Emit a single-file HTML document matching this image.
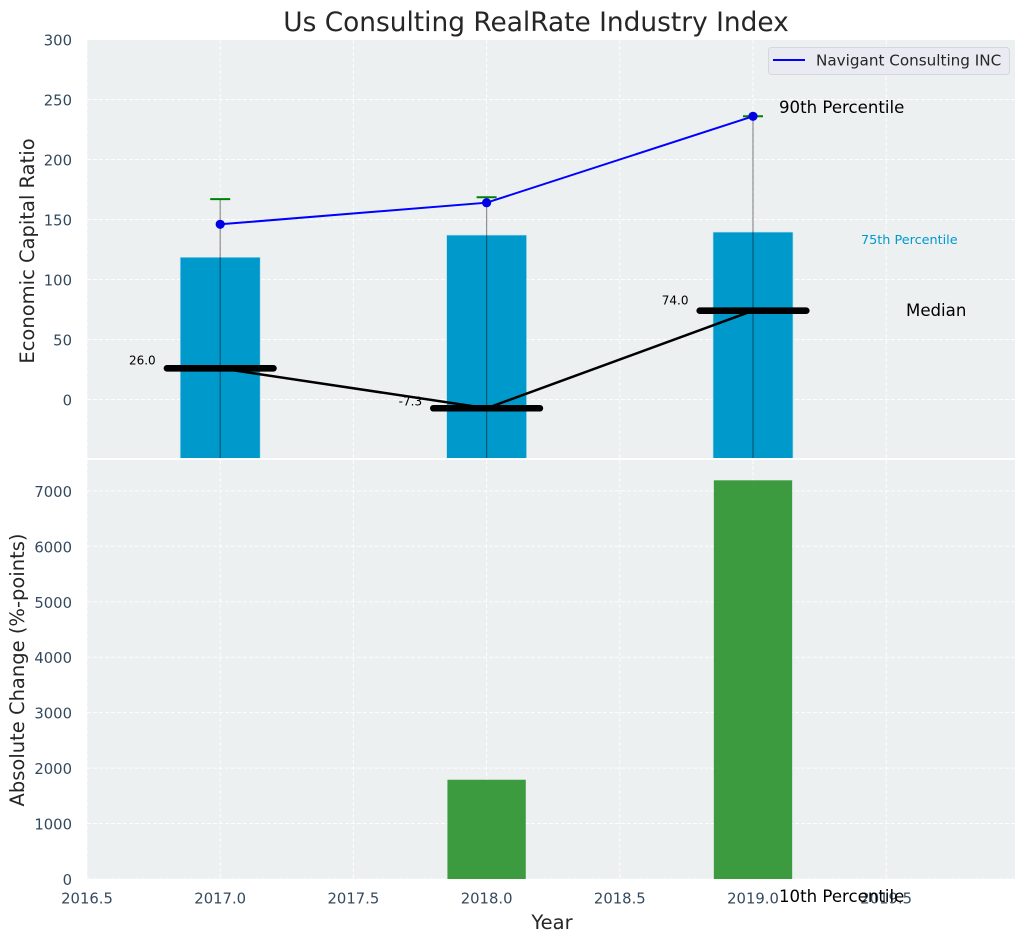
<!DOCTYPE html>
<html lang="en">
<head>
<meta charset="utf-8">
<title>Us Consulting RealRate Industry Index</title>
<style>
html,body{margin:0;padding:0;background:#fff;}
svg{display:block;font-family:"DejaVu Sans","Liberation Sans",sans-serif;}
</style>
</head>
<body>
<svg id="chart" width="1026" height="942" viewBox="0 0 1026 942" xmlns="http://www.w3.org/2000/svg">
  <defs>
    <clipPath id="top-clip"><rect x="87" y="40" width="928" height="418"></rect></clipPath>
    <clipPath id="bottom-clip"><rect x="87" y="460" width="928" height="419"></rect></clipPath>
  </defs>
  <rect x="0" y="0" width="1026" height="942" fill="#ffffff"></rect>
  <rect x="87" y="40" width="928" height="418" fill="#ecf0f1"></rect>
  <rect x="87" y="460" width="928" height="419" fill="#ecf0f1"></rect>
  <g id="top-grid"></g>
  <g id="bottom-grid"></g>
  <g id="top-marks" clip-path="url(#top-clip)"></g>
  <g id="bottom-marks" clip-path="url(#bottom-clip)"></g>
  <g id="labels"></g>
  <text x="536" y="31" font-size="26.4px" fill="#262626" text-anchor="middle">Us Consulting RealRate Industry Index</text>
  <text transform="translate(34,251) rotate(-90)" font-size="19.5px" fill="#262626" text-anchor="middle">Economic Capital Ratio</text>
  <text transform="translate(24,670) rotate(-90)" font-size="19.5px" fill="#262626" text-anchor="middle">Absolute Change (%-points)</text>
  <text x="552" y="929" font-size="19.5px" fill="#262626" text-anchor="middle">Year</text>
  <g>
    <rect x="768.5" y="47.5" width="241" height="27" rx="3" fill="#eaeaf2" stroke="#d6d6dc" stroke-width="1"></rect>
    <line x1="773" y1="60" x2="805" y2="60" stroke="#0000ff" stroke-width="2"></line>
    <text x="816" y="65.5" font-size="15.2px" fill="#262626">Navigant Consulting INC</text>
  </g>
</svg>
<script>
var years = [2017, 2018, 2019];
var p90 = [167, 168.5, 236];
var p75 = [118.5, 137, 139.5];
var median = [26, -7.3, 74];
var p10 = [-60, -60, -60];
var company = [146, 164, 236];
var changes = [0, 1790, 7190];
var xTicks = [2016.5, 2017, 2017.5, 2018, 2018.5, 2019, 2019.5];
var topTicks = [0, 50, 100, 150, 200, 250, 300];
var bottomTicks = [0, 1000, 2000, 3000, 4000, 5000, 6000, 7000];
var medianLabels = ['26.0', '-7.3', '74.0'];
var barWidth = 0.3;
var medianHalf = 0.2;

var NS = 'http://www.w3.org/2000/svg';
function xPos(v) { return 87 + (v - 2016.5) * 266.4; }
function yTop(v) { return 399.5 - v * 1.2; }
function yBottom(v) { return 879 - v * 0.05545; }
function make(parent, tag, attrs, text) {
  var el = document.createElementNS(NS, tag);
  for (var k in attrs) { el.setAttribute(k, attrs[k]); }
  if (text !== undefined) { el.textContent = text; }
  parent.appendChild(el);
  return el;
}
var topGrid = document.getElementById('top-grid');
var bottomGrid = document.getElementById('bottom-grid');
var topMarks = document.getElementById('top-marks');
var bottomMarks = document.getElementById('bottom-marks');
var labels = document.getElementById('labels');
var gridStyle = { stroke: '#ffffff', 'stroke-width': 1, 'stroke-dasharray': '4 2', opacity: 0.9, fill: 'none' };
function gridLine(parent, x1, y1, x2, y2, name) {
  var a = { x1: x1, y1: y1, x2: x2, y2: y2 };
  for (var k in gridStyle) { a[k] = gridStyle[k]; }
  var el = make(parent, 'line', a);
  
  
}
xTicks.forEach(function (t) {
  var x = xPos(t);
  gridLine(topGrid, x, 40, x, 458, 'top-x-gridline');
  gridLine(bottomGrid, x, 460, x, 879, 'bottom-x-gridline');
  var lab = make(labels, 'text', { x: x, y: 903.5, 'font-size': '14.8px', fill: '#34495e', 'text-anchor': 'middle' }, t.toFixed(1));
  
  
});
topTicks.forEach(function (t) {
  var y = yTop(t);
  gridLine(topGrid, 87, y, 1015, y, 'top-y-gridline');
  var lab = make(labels, 'text', { x: 72, y: y + 5.8, 'font-size': '14.8px', fill: '#34495e', 'text-anchor': 'end' }, String(t));
  
  
});
bottomTicks.forEach(function (t) {
  var y = yBottom(t);
  gridLine(bottomGrid, 87, y, 1015, y, 'bottom-y-gridline');
  var lab = make(labels, 'text', { x: 72, y: y + 6, 'font-size': '14.8px', fill: '#34495e', 'text-anchor': 'end' }, String(t));
  
  
});

years.forEach(function (yr, i) {
  var bar = make(topMarks, 'rect', {
    x: xPos(yr - barWidth / 2), y: yTop(p75[i]),
    width: xPos(yr + barWidth / 2) - xPos(yr - barWidth / 2),
    height: yTop(-60) - yTop(p75[i]),
    fill: '#0099cc', stroke: '#b5dfec', 'stroke-width': 0.6
  });
  
  
  var whisker = make(topMarks, 'line', {
    x1: xPos(yr), y1: yTop(p90[i]), x2: xPos(yr), y2: yTop(p10[i]),
    stroke: '#000000', 'stroke-width': 1.2, opacity: 0.42
  });
  
  
  var cap = make(topMarks, 'line', {
    x1: xPos(yr) - 10, y1: yTop(p90[i]), x2: xPos(yr) + 10, y2: yTop(p90[i]),
    stroke: '#008000', 'stroke-width': 2
  });
  
  
});

var medianPts = years.map(function (yr, i) { return xPos(yr) + ',' + yTop(median[i]); }).join(' ');
var medianPath = make(topMarks, 'polyline', { points: medianPts, fill: 'none', stroke: '#000000', 'stroke-width': 2.5 });



years.forEach(function (yr, i) {
  var seg = make(topMarks, 'line', {
    x1: xPos(yr - medianHalf), y1: yTop(median[i]), x2: xPos(yr + medianHalf), y2: yTop(median[i]),
    stroke: '#000000', 'stroke-width': 6.6, 'stroke-linecap': 'round'
  });
  
  
  var lab = make(labels, 'text', {
    x: xPos(yr) - 64.5, y: yTop(median[i]) - (3 + median[i] * 0.04),
    'font-size': '12px', fill: '#000000', 'text-anchor': 'end'
  }, medianLabels[i]);
  
  
});

var companyPts = years.map(function (yr, i) { return xPos(yr) + ',' + yTop(company[i]); }).join(' ');
var companyPath = make(topMarks, 'polyline', { points: companyPts, fill: 'none', stroke: '#0000ff', 'stroke-width': 2 });


years.forEach(function (yr, i) {
  var dot = make(topMarks, 'circle', { cx: xPos(yr), cy: yTop(company[i]), r: 4.6, fill: '#0000e6' });
  
  
  var g = make(bottomMarks, 'rect', {
    x: xPos(yr - barWidth / 2) + 0.8, y: yBottom(changes[i]),
    width: xPos(yr + barWidth / 2) - xPos(yr - barWidth / 2) - 1.6,
    height: yBottom(0) - yBottom(changes[i]),
    fill: '#2b942f', opacity: 0.92
  });
  
  
});

var last = years.length - 1;
var ann1 = make(labels, 'text', { x: 779, y: yTop(p90[last]) - 3.2, 'font-size': '16.6px', fill: '#000000' }, '90th Percentile');


var ann2 = make(labels, 'text', { x: 861, y: yTop(p75[last]) + 11.8, 'font-size': '12.8px', fill: '#0099cc' }, '75th Percentile');


var ann3 = make(labels, 'text', { x: 906, y: yTop(median[last]) + 5.5, 'font-size': '16.6px', fill: '#000000' }, 'Median');


var ann4 = make(labels, 'text', { x: 779, y: 902, 'font-size': '16.6px', fill: '#000000' }, '10th Percentile');


</script>
</body>
</html>
